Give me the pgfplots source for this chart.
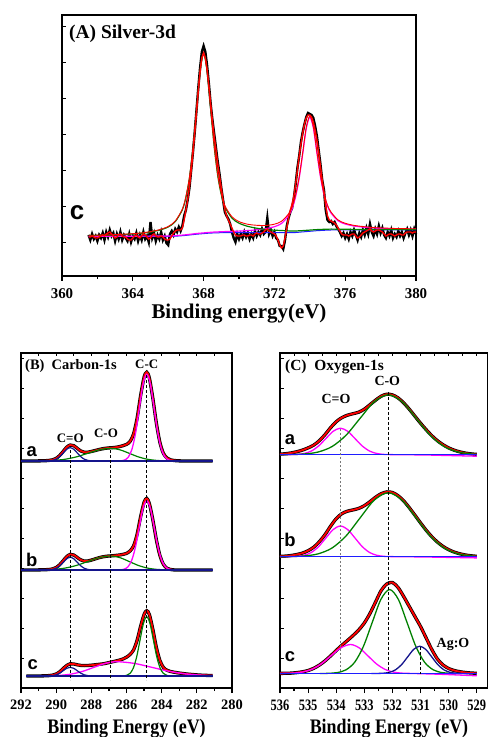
\documentclass[border=0pt]{standalone}
\usepackage{pgfplots}
\pgfplotsset{compat=1.18}
\usepackage{pgfplotstable}
\usepackage{fontspec}
\setmainfont{Liberation Serif}
\newfontfamily\arial{Liberation Sans}
\definecolor{cgreen}{RGB}{0,128,0}
\definecolor{cmag}{RGB}{255,0,255}
\definecolor{cnavy}{RGB}{20,20,140}
\definecolor{cblue}{RGB}{30,30,255}
\definecolor{cred}{RGB}{255,0,0}
\definecolor{cgray}{RGB}{120,120,120}

\pgfplotstableread{
x k r
361.5 41 39
361.6 36 39
361.7 42 40
361.8 37 39
361.9 40 38
362.0 35 38
362.1 41 39
362.2 38 40
362.3 43 41
362.4 36 40
362.5 44 42
362.6 39 43
362.7 46 44
362.8 40 42
362.9 43 40
363.0 35 38
363.1 42 39
363.2 37 41
363.3 44 42
363.4 36 40
363.5 41 39
363.6 38 39
363.7 35 37
363.8 42 36
363.9 34 36
364.0 40 38
364.1 37 40
364.2 43 41
364.3 35 39
364.4 41 38
364.5 36 40
364.6 44 42
364.7 37 41
364.8 40 39
364.9 34 37
365.0 54 38
365.1 38 41
365.2 43 42
365.3 35 40
365.4 41 39
365.5 37 39
365.6 44 40
365.7 36 39
365.8 40 37
365.9 33 36
366.0 31 36
366.1 42 37
366.2 45 40
366.3 41 43
366.4 47 45
366.5 44 46
366.6 49 46
366.7 45 46
366.8 50 48
366.9 60 56
367.0 66 66
367.1 76 76
367.2 88 89
367.3 106 105
367.4 124 123
367.5 144 143
367.6 166 164
367.7 188 185
367.8 208 204
367.9 224 218
368.0 230 223
368.1 224 218
368.2 210 206
368.3 192 190
368.4 172 172
368.5 156 155
368.6 142 140
368.7 128 126
368.8 114 112
368.9 102 100
369.0 88 88
369.1 76 76
369.2 64 66
369.3 60 60
369.4 57 56
369.5 52 52
369.6 44 48
369.7 38 44
369.8 34 41
369.9 42 40
370.0 37 40
370.1 42 40
370.2 38 41
370.3 44 41
370.4 39 40
370.5 43 40
370.6 37 41
370.7 42 41
370.8 38 40
370.9 45 42
371.0 40 43
371.1 44 42
371.2 41 42
371.3 47 43
371.4 42 44
371.5 44 46
371.6 58 47
371.7 42 45
371.8 46 44
371.9 40 43
372.0 44 42
372.1 38 40
372.2 36 36
372.3 30 31
372.4 30 28
372.5 27 30
372.6 36 38
372.7 50 48
372.8 58 58
372.9 64 66
373.0 68 72
373.1 78 80
373.2 92 92
373.3 108 106
373.4 120 120
373.5 134 132
373.6 144 143
373.7 152 152
373.8 159 158
373.9 163 161
374.0 162 161
374.1 161 159
374.2 158 154
374.3 150 146
374.4 140 136
374.5 126 124
374.6 112 110
374.7 96 96
374.8 86 84
374.9 66 70
375.0 56 60
375.1 54 56
375.2 55 55
375.3 52 54
375.4 54 53
375.5 50 51
375.6 47 48
375.7 44 45
375.8 40 42
375.9 43 41
376.0 38 41
376.1 42 41
376.2 37 40
376.3 44 41
376.4 40 42
376.5 46 42
376.6 41 40
376.7 36 38
376.8 43 39
376.9 39 41
377.0 46 43
377.1 41 44
377.2 48 45
377.3 42 46
377.4 52 47
377.5 44 45
377.6 40 44
377.7 47 45
377.8 42 46
377.9 50 46
378.0 43 45
378.1 48 44
378.2 41 42
378.3 38 40
378.4 44 41
378.5 40 42
378.6 46 42
378.7 38 41
378.8 42 40
378.9 39 41
379.0 45 42
379.1 40 42
379.2 44 41
379.3 38 41
379.4 43 43
379.5 47 44
379.6 41 44
379.7 46 44
379.8 40 43
379.9 47 44
380.0 42 44
}\Anoise

\pgfplotstableread{
x bg g m e
361.5 39.5 40.5 39.7 40.7
362.0 39.5 40.6 39.7 40.8
362.5 39.5 40.8 39.75 41.05
363.0 39.5 41.1 39.75 41.35
363.5 39.5 41.5 39.8 41.8
364.0 39.5 42.0 39.8 42.3
364.5 39.5 42.7 39.85 43.05
365.0 39.5 44.0 39.9 44.4
365.5 39.5 45.8 39.95 46.25
366.0 39.5 49.0 40.0 49.5
366.4 39.8 54.4 40.35 54.95
366.8 40.3 66.3 40.9 66.9
367.0 40.6 78.6 41.2 79.2
367.2 41.0 98 41.65 98.65
367.4 41.4 127.4 42.05 128
367.6 41.8 165.8 42.5 166.5
367.8 42.1 204.1 42.8 204.8
368.0 42.4 222.4 43.1 223.1
368.2 42.7 204.7 43.45 205.45
368.4 42.9 166.9 43.7 167.7
368.6 43.1 129.1 43.95 129.95
368.8 43.2 100.2 44.1 101.1
369.0 43.3 81.3 44.3 82.3
369.2 43.3 69.3 44.4 70.4
369.6 43.3 57.9 44.65 59.25
370.0 43.3 52.8 44.9 54.4
370.5 43.3 49.6 45.4 51.7
371.0 43.3 47.8 46.2 50.7
371.5 43.3 46.5 47.3 50.5
372.0 43.3 45.8 49.3 51.8
372.4 43.3 45.5 52.5 54.7
372.8 43.3 45.1 60.3 62.1
373.0 43.3 44.9 67.3 68.9
373.2 43.5 45.0 79.5 81
373.4 43.8 45.2 97.8 99.2
373.6 44.1 45.4 122.1 123.4
373.8 44.4 45.65 147.4 148.65
374.0 44.7 45.9 158.7 159.9
374.2 45.0 46.15 148 149.15
374.4 45.3 46.4 123.3 124.4
374.6 45.5 46.55 99.5 100.55
374.8 45.7 46.7 81.7 82.7
375.0 45.9 46.8 69.9 70.8
375.2 46.0 46.9 63 63.9
375.6 46 46.8 55.2 56
376.0 46 46.75 52 52.75
376.5 46 46.6 50 50.6
377.0 46 46.55 48.9 49.45
377.5 46 46.5 48.1 48.6
378.0 46 46.45 47.6 48.05
378.5 46 46.45 47.3 47.75
379.0 46 46.4 47.0 47.4
379.5 46 46.4 46.9 47.3
380.0 46 46.35 46.85 47.2
}\Asmooth

\pgfplotstableread{
x ea eb ec
292.0 227.0 118.0 12.0
291.7 227.0 118.0 12.0
291.0 227.1 118.1 12.05
290.6 227.3 118.3 12.2
290.4 227.6 118.5 12.4
290.2 228.2 119.1 12.9
290.0 229.6 120.5 14.0
289.8 232.5 123.3 16.2
289.6 236.6 127.3 19.5
289.4 240.8 131.4 22.5
289.2 243.0 133.6 24.2
289.0 242.3 133.0 24.0
288.8 239.6 130.5 23.2
288.6 237.0 128.1 22.6
288.4 235.8 126.9 22.4
288.2 235.8 127.0 22.5
288.0 236.5 127.9 22.8
287.8 237.4 129.0 23.2
287.6 238.3 130.1 23.6
287.4 239.1 131.0 24.0
287.2 239.7 131.6 24.6
287.0 240.1 132.0 25.4
286.8 240.3 132.2 26.2
286.6 240.7 132.6 27.0
286.4 241.4 133.0 27.9
286.2 242.3 133.6 29.0
286.0 243.6 134.6 30.8
285.8 246.5 137.0 33.5
285.6 254.0 142.0 38.0
285.4 269.5 153.5 47.5
285.2 292.0 171.0 61.5
285.0 310.8 185.7 73.5
284.85 315.8 189.6 77.3
284.7 310.0 184.5 73.5
284.5 289.5 168.0 58.5
284.3 264.8 148.1 40.5
284.1 245.6 132.5 27.5
283.9 234.6 123.6 20.5
283.7 230.0 119.8 17.8
283.5 228.2 118.5 16.5
283.3 227.5 118.1 15.8
283.1 227.2 118.0 15.2
282.8 227.05 118.0 14.5
282.4 227.0 118.0 13.7
281.8 227.0 118.0 12.9
281.1 227.0 118.0 12.4
}\Benv

\pgfplotstableread{
x ea eb ec
536.0 233.8 131.6 14.6
535.8 234.3 131.9 14.7
535.6 235.1 132.5 14.9
535.4 236.3 133.5 15.4
535.2 237.9 134.9 16.2
535.0 240.1 137.3 17.5
534.8 242.9 140.8 19.7
534.6 247.3 146.3 22.9
534.4 253.3 153.3 27.1
534.2 260.3 161.8 32.1
534.0 266.3 169.3 37.5
533.8 270.3 174.3 42.7
533.6 272.8 176.8 47.5
533.4 274.3 178.1 52.5
533.2 275.8 179.6 58.0
533.0 278.8 182.3 65.0
532.8 283.3 186.3 74.5
532.6 287.8 190.8 86.0
532.4 291.8 194.3 97.5
532.2 293.8 196.1 104.0
532.0 293.1 195.5 105.5
531.8 290.1 192.3 100.5
531.6 285.1 187.1 91.5
531.4 278.8 180.3 81.5
531.2 271.8 172.8 71.5
531.0 264.8 165.1 61.5
530.8 258.3 157.8 50.0
530.6 252.3 151.3 38.5
530.4 247.3 145.9 29.0
530.2 243.3 141.6 23.0
530.0 240.1 138.3 19.5
529.8 237.8 135.9 17.5
529.6 236.1 134.2 16.3
529.4 234.9 133.0 15.5
529.2 234.1 132.2 15.0
529.0 233.6 131.7 14.7
}\Cenv

\pgfplotsset{
  xpsbase/.style={
    scale only axis, anchor=south west, ymin=0, clip=false,
    /pgf/number format/assume math mode=true,
    tick align=outside, xtick pos=left, ytick=\empty,
    major tick length=5bp, minor tick length=3bp,
    tick style={black, line width=1.2bp},
    xticklabel style={inner sep=0pt, yshift=-7bp},
  },
  overl/.style={
    scale only axis, anchor=south west, ymin=0,
    axis line style={draw=none}, tick align=inside,
    xticklabels={}, yticklabels={}, ytick pos=left,
    major tick length=3.5bp, tick style={black, line width=1bp},
  },
}

\begin{document}
\begin{tikzpicture}
\path[use as bounding box] (0,0) rectangle (488bp,737bp);

% ---------------- Panel A ----------------
\begin{axis}[xpsbase, at={(62bp,461bp)}, width=354bp, height=261bp,
  xmin=360, xmax=380, ymax=261,
  axis line style={line width=2.6bp},
  xtick={360,364,...,380}, minor xtick={362,366,...,378},
  xticklabel style={font=\fontsize{15}{15}\selectfont\bfseries},
  xlabel={Binding energy(eV)},
  xlabel style={at={(axis description cs:0.5,0)}, anchor=north, inner sep=0pt, yshift=-28bp, font=\fontsize{21}{21}\selectfont\bfseries}]
\addplot[black, line width=2.4bp] table[x=x,y=k]{\Anoise};
\addplot[cblue, line width=1bp, smooth] table[x=x,y=bg]{\Asmooth};
\addplot[cmag, line width=1.2bp, smooth] table[x=x,y=m]{\Asmooth};
\addplot[cgreen, line width=1.2bp, smooth] table[x=x,y=g]{\Asmooth};
\addplot[cred, line width=0.9bp, smooth] table[x=x,y=e]{\Asmooth};
\addplot[cred, line width=1.4bp] table[x=x,y=r]{\Anoise};
\end{axis}
\begin{axis}[overl, at={(62bp,461bp)}, width=354bp, height=261bp,
  xmin=360, xmax=380, ymax=261, xtick=\empty, ytick={33,69,...,249}]
\addplot[draw=none] coordinates {(370,100)};
\end{axis}

% ---------------- Panel B ----------------
\begin{axis}[xpsbase, at={(21bp,49bp)}, width=211bp, height=335bp,
  xmin=280, xmax=292, x dir=reverse, ymax=335,
  axis line style={line width=1.8bp},
  xtick={280,282,...,292}, minor xtick={281,283,...,291},
  xticklabel style={font=\fontsize{14.5}{15}\selectfont\bfseries},
  xlabel={Binding Energy (eV)},
  xlabel style={at={(axis description cs:0.5,0)}, anchor=north, inner sep=0pt, yshift=-31bp, yscale=1.15, font=\fontsize{18}{18}\selectfont\bfseries}]
% data (black) and envelope (red)
\addplot[black, line width=3.3bp, smooth] table[x=x,y=ea]{\Benv};
\addplot[black, line width=3.3bp, smooth] table[x=x,y=eb]{\Benv};
\addplot[black, line width=3.3bp, smooth, skip coords between index={0}{1}] table[x=x,y=ec]{\Benv};
\addplot[cred, line width=1.8bp, smooth] table[x=x,y=ea]{\Benv};
\addplot[cred, line width=1.8bp, smooth] table[x=x,y=eb]{\Benv};
\addplot[cred, line width=1.8bp, smooth, skip coords between index={0}{1}] table[x=x,y=ec]{\Benv};
% spectrum a components
\addplot[cgreen, line width=1.2bp, smooth] coordinates {(291.45,227.03) (290.8,227.14) (290.15,227.56) (289.5,228.72) (288.85,231.12) (288.2,234.7) (287.55,238.21) (286.9,239.7) (286.375,238.21) (285.85,234.7) (285.325,231.12) (284.8,228.72) (284.275,227.56) (283.75,227.14) (283.225,227.03)};
\addplot[cmag, line width=1.3bp, smooth] coordinates {(286.32,227.19) (286.11,227.96) (285.9,230.81) (285.69,238.73) (285.48,255.15) (285.27,279.58) (285.06,303.51) (284.85,313.7) (284.64,303.51) (284.43,279.58) (284.22,255.15) (284.01,238.73) (283.8,230.81) (283.59,227.96) (283.38,227.19)};
\addplot[cnavy, line width=1.2bp, smooth] coordinates {(290.6,227.03) (290.4,227.15) (290.2,227.58) (290.0,228.8) (289.8,231.32) (289.6,235.07) (289.4,238.74) (289.2,240.3) (289.0,238.74) (288.8,235.07) (288.6,231.32) (288.4,228.8) (288.2,227.58) (288.0,227.15) (287.8,227.03)};
\addplot[cnavy, line width=1.5bp] coordinates {(292,227) (281.1,227)};
% spectrum b components
\addplot[cgreen, line width=1.2bp, smooth] coordinates {(291.45,118.03) (290.8,118.16) (290.15,118.61) (289.5,119.89) (288.85,122.55) (288.2,126.49) (287.55,130.36) (286.9,132.0) (286.375,130.36) (285.85,126.49) (285.325,122.55) (284.8,119.89) (284.275,118.61) (283.75,118.16) (283.225,118.03)};
\addplot[cmag, line width=1.3bp, smooth] coordinates {(286.355,118.15) (286.14,118.77) (285.925,121.04) (285.71,127.38) (285.495,140.5) (285.28,160.03) (285.065,179.16) (284.85,187.3) (284.635,179.16) (284.42,160.03) (284.205,140.5) (283.99,127.38) (283.775,121.04) (283.56,118.77) (283.345,118.15)};
\addplot[cnavy, line width=1.2bp, smooth] coordinates {(290.6,118.03) (290.4,118.14) (290.2,118.56) (290.0,119.72) (289.8,122.12) (289.6,125.7) (289.4,129.21) (289.2,130.7) (289.0,129.21) (288.8,125.7) (288.6,122.12) (288.4,119.72) (288.2,118.56) (288.0,118.14) (287.8,118.03)};
\addplot[cnavy, line width=1.5bp] coordinates {(292,118) (281.1,118)};
% spectrum c components
\addplot[cmag, line width=1.3bp, smooth] coordinates {(291.7,12.0) (291.075,12.03) (290.43,12.16) (289.785,12.63) (289.14,13.93) (288.495,16.64) (287.85,20.67) (287.205,24.62) (286.56,26.3) (285.56,24.62) (284.56,20.67) (283.56,16.64) (282.56,13.93) (281.56,12.63) (281.1,12.35)};
\addplot[cgreen, line width=1.2bp, smooth] coordinates {(286.18,12.13) (285.99,12.66) (285.80,14.6) (285.61,20.02) (285.42,31.25) (285.23,47.97) (285.04,64.33) (284.85,71.3) (284.66,64.33) (284.47,47.97) (284.28,31.25) (284.09,20.02) (283.90,14.6) (283.71,12.66) (283.52,12.13)};
\addplot[cnavy, line width=1.2bp, smooth] coordinates {(290.6,12.02) (290.4,12.1) (290.2,12.38) (290.0,13.18) (289.8,14.82) (289.6,17.28) (289.4,19.68) (289.2,20.7) (289.0,19.68) (288.8,17.28) (288.6,14.82) (288.4,13.18) (288.2,12.38) (288.0,12.1) (287.8,12.02)};
\addplot[cnavy, line width=1.5bp] coordinates {(291.7,12) (281.1,12)};
% dashed guides
\addplot[black, line width=1bp, dash pattern=on 3bp off 2bp] coordinates {(289.2,238) (289.2,8)};
\addplot[black, line width=1bp, dash pattern=on 3bp off 2bp] coordinates {(286.9,238) (286.9,8)};
\addplot[black, line width=1bp, dash pattern=on 3bp off 2bp] coordinates {(284.85,313) (284.85,8)};
\end{axis}
\begin{axis}[overl, at={(21bp,49bp)}, width=211bp, height=335bp,
  xmin=280, xmax=292, x dir=reverse, ymax=335,
  xtick={281,...,291}, xtick pos=right, ytick={29,59,...,329}]
\addplot[draw=none] coordinates {(286,100)};
\end{axis}

% ---------------- Panel C ----------------
\begin{axis}[xpsbase, at={(280bp,49bp)}, width=208bp, height=335bp,
  xmin=528.6, xmax=536, x dir=reverse, ymax=335,
  axis line style={line width=1.8bp},
  xtick={529,...,536}, minor xtick={529.5,530.5,...,535.5},
  xticklabel style={font=\fontsize{16}{16}\selectfont\bfseries, xscale=0.78},
  xlabel={Binding Energy (eV)},
  xlabel style={at={(axis description cs:0.524,0)}, anchor=north, inner sep=0pt, yshift=-31bp, yscale=1.15, font=\fontsize{18}{18}\selectfont\bfseries}]
\addplot[black, line width=3.3bp, smooth] table[x=x,y=ea]{\Cenv};
\addplot[black, line width=3.3bp, smooth] table[x=x,y=eb]{\Cenv};
\addplot[black, line width=3.3bp, smooth] table[x=x,y=ec]{\Cenv};
\addplot[cred, line width=1.8bp, smooth] table[x=x,y=ea]{\Cenv};
\addplot[cred, line width=1.8bp, smooth] table[x=x,y=eb]{\Cenv};
\addplot[cred, line width=1.8bp, smooth] table[x=x,y=ec]{\Cenv};
% a
\addplot[cmag, line width=1.3bp, smooth] coordinates {(536.0,233.3) (535.67,233.36) (535.41,233.59) (535.15,234.46) (534.89,236.89) (534.63,241.9) (534.37,249.37) (534.11,256.69) (533.85,259.8) (533.59,256.69) (533.33,249.37) (533.07,241.9) (532.81,236.89) (532.55,234.46) (532.29,233.59) (532.03,233.36) (531.77,233.3) (531.4,233.2) (530.8,233.0) (530.2,232.6) (529.6,232.2) (529.0,231.8)};
\addplot[cgreen, line width=1.3bp, smooth] coordinates {(536.0,233.34) (535.65,233.43) (535.15,233.97) (534.65,235.93) (534.15,241.42) (533.65,252.78) (533.15,269.69) (532.65,286.25) (532.15,293.3) (531.65,286.25) (531.15,269.69) (530.65,252.78) (530.15,241.42) (529.65,235.93) (529.15,233.97) (529.0,233.72)};
\addplot[cblue, line width=1.5bp] coordinates {(536,233.3) (529,233.3)};
% b
\addplot[cmag, line width=1.3bp, smooth] coordinates {(536.0,131.3) (535.67,131.37) (535.41,131.64) (535.15,132.65) (534.89,135.45) (534.63,141.27) (534.37,149.92) (534.11,158.39) (533.85,162.0) (533.59,158.39) (533.33,149.92) (533.07,141.27) (532.81,135.45) (532.55,132.65) (532.29,131.64) (532.03,131.37) (531.77,131.3) (531.4,131.2) (530.8,131.0) (530.2,130.7) (529.6,130.4) (529.0,130.1)};
\addplot[cgreen, line width=1.3bp, smooth] coordinates {(536.0,131.34) (535.65,131.44) (535.15,132.01) (534.65,134.11) (534.15,139.96) (533.65,152.08) (533.15,170.12) (532.65,187.78) (532.15,195.3) (531.65,187.78) (531.15,170.12) (530.65,152.08) (530.15,139.96) (529.65,134.11) (529.15,132.01) (529.0,131.75)};
\addplot[cblue, line width=1.5bp] coordinates {(536,131.3) (529,131.3)};
% c
\addplot[cmag, line width=1.3bp, smooth] coordinates {(536.0,14.56) (535.59,14.82) (535.24,15.77) (534.89,18.42) (534.54,23.92) (534.19,32.09) (533.84,40.09) (533.49,43.5) (533.18,40.09) (532.87,32.09) (532.56,23.92) (532.25,18.42) (531.94,15.77) (531.63,14.82) (531.32,14.56) (531.0,14.3) (530.5,13.9) (530.0,13.4) (529.5,12.8) (529.0,12.2)};
\addplot[cgreen, line width=1.3bp, smooth] coordinates {(534.58,14.52) (534.27,14.68) (533.96,15.43) (533.65,18.19) (533.34,25.87) (533.03,41.77) (532.72,65.45) (532.41,88.63) (532.1,98.5) (531.79,88.63) (531.48,65.45) (531.17,41.77) (530.86,25.87) (530.55,18.19) (530.24,15.43) (529.93,14.68) (529.62,14.52)};
\addplot[cnavy, line width=1.3bp, smooth] coordinates {(532.75,14.5) (532.535,14.56) (532.32,14.8) (532.105,15.7) (531.89,18.19) (531.675,23.36) (531.46,31.06) (531.245,38.59) (531.03,41.8) (530.815,38.59) (530.6,31.06) (530.385,23.36) (530.17,18.19) (529.955,15.7) (529.74,14.8) (529.525,14.56) (529.31,14.5)};
\addplot[cblue, line width=1.5bp] coordinates {(536,14.5) (529,14.5)};
% dashed guides
\addplot[cgray, line width=1.4bp, dash pattern=on 2.5bp off 1.5bp] coordinates {(533.84,259) (533.84,17)};
\addplot[black, line width=0.8bp, dash pattern=on 3bp off 2bp] coordinates {(532.15,296) (532.15,15)};
\addplot[black, line width=0.8bp, dash pattern=on 3bp off 2bp] coordinates {(531.0,41) (531.0,14)};
\end{axis}
\begin{axis}[overl, at={(280bp,49bp)}, width=208bp, height=335bp,
  xmin=528.6, xmax=536, x dir=reverse, ymax=335,
  xtick={529,529.5,...,536}, xtick pos=right, ytick={29,59,...,329}]
\addplot[draw=none] coordinates {(532,100)};
\end{axis}

% ---------------- texts ----------------
\node[anchor=base west, inner sep=0pt, font=\fontsize{19.5}{20}\selectfont\bfseries] at (69bp,698bp) {(A) Silver-3d};
\node[inner sep=0pt, font=\arial\fontsize{26}{26}\selectfont\bfseries] at (77bp,524bp) {c};

\node[anchor=base west, inner sep=0pt, font=\fontsize{14.5}{15}\selectfont\bfseries] at (25bp,367bp) {(B)\ \ Carbon-1s};
\node[anchor=base, inner sep=0pt, font=\fontsize{13}{13}\selectfont\bfseries] at (70.3bp,294.7bp) {C=O};
\node[anchor=base, inner sep=0pt, font=\fontsize{13}{13}\selectfont\bfseries] at (106bp,299.3bp) {C-O};
\node[anchor=base, inner sep=0pt, font=\fontsize{13}{13}\selectfont\bfseries] at (146.7bp,368.7bp) {C-C};
\node[anchor=base, inner sep=0pt, font=\arial\fontsize{18.5}{19}\selectfont\bfseries] at (31.7bp,280.3bp) {a};
\node[anchor=base, inner sep=0pt, font=\arial\fontsize{18.5}{19}\selectfont\bfseries] at (31.7bp,170.3bp) {b};
\node[anchor=base, inner sep=0pt, font=\arial\fontsize{18.5}{19}\selectfont\bfseries] at (32.7bp,67bp) {c};

\node[anchor=base west, inner sep=0pt, font=\fontsize{15.5}{16}\selectfont\bfseries] at (285bp,366.3bp) {(C)\ \ Oxygen-1s};
\node[anchor=base, inner sep=0pt, font=\fontsize{14}{14}\selectfont\bfseries] at (336bp,333.7bp) {C=O};
\node[anchor=base, inner sep=0pt, font=\fontsize{14}{14}\selectfont\bfseries] at (387.3bp,351.3bp) {C-O};
\node[anchor=base, inner sep=0pt, font=\fontsize{14}{14}\selectfont\bfseries] at (453bp,89.7bp) {Ag:O};
\node[anchor=base, inner sep=0pt, font=\arial\fontsize{18.5}{19}\selectfont\bfseries] at (290bp,292bp) {a};
\node[anchor=base, inner sep=0pt, font=\arial\fontsize{18.5}{19}\selectfont\bfseries] at (290bp,190.3bp) {b};
\node[anchor=base, inner sep=0pt, font=\arial\fontsize{18.5}{19}\selectfont\bfseries] at (290bp,75.3bp) {c};
\end{tikzpicture}
\end{document}
